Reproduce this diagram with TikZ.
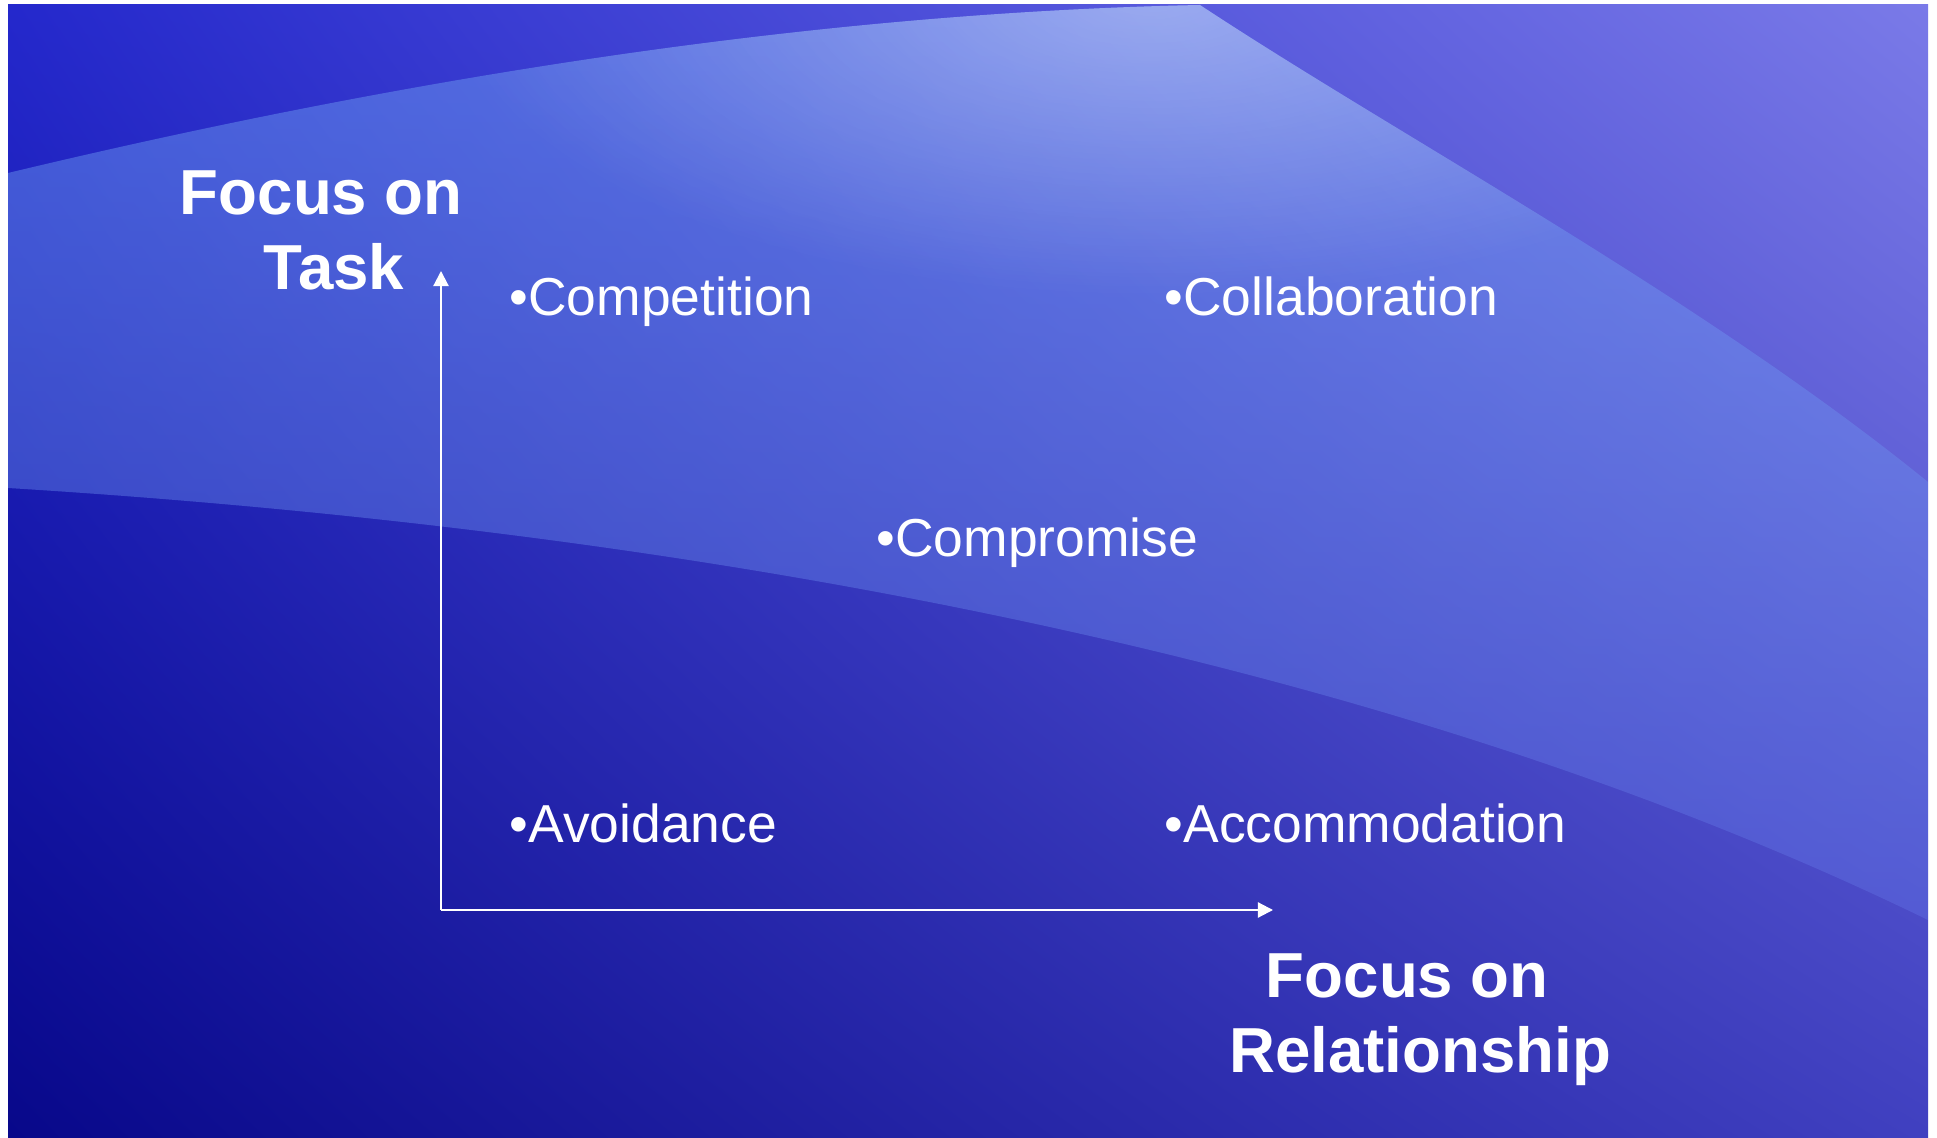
\documentclass[tikz,border=0pt]{standalone}
\usepackage{fontspec}
\setmainfont{Liberation Sans}
\usetikzlibrary{arrows.meta,fadings,shadings}

\definecolor{slidetl}{HTML}{2428CC}
\definecolor{slidetr}{HTML}{7A7AE8}
\definecolor{slidebl}{HTML}{08088A}
\definecolor{slidebr}{HTML}{4040C0}
\definecolor{bandtop}{HTML}{78B0F8}
\definecolor{bandbottom}{HTML}{6070E4}

\tikzfading[name=glow, inner color=transparent!0, outer color=transparent!100]

\begin{document}
\begin{tikzpicture}[
    axis/.style={draw=white, line width=0.6pt, -{Triangle[length=4.3pt,width=4.3pt]}},
    item/.style={anchor=base west, inner sep=0pt, text=white, font=\fontsize{15.2pt}{18.2pt}\selectfont},
    axistitle/.style={anchor=north, inner sep=0pt, align=center, text=white, font=\fontsize{18.1pt}{21.3pt}\selectfont\bfseries}
  ]
    \useasboundingbox (0cm,0cm) rectangle (19.37cm,11.37cm);
    \fill[white] (0cm,0cm) rectangle (19.37cm,11.37cm);

    % slide background with the light swoosh band
    \shade[upper left=slidetl, upper right=slidetr, lower left=slidebl, lower right=slidebr]
      (0.08cm,0cm) rectangle (19.28cm,11.32cm);
    \begin{scope}
      \clip (0.08cm,9.64cm) .. controls (4.5cm,10.7cm) and (8.5cm,11.25cm) .. (12cm,11.32cm)
            .. controls (14cm,10cm) and (17cm,8.4cm) .. (19.28cm,6.55cm)
            -- (19.28cm,2.17cm)
            .. controls (14.5cm,4.5cm) and (8cm,6cm) .. (0.08cm,6.49cm) -- cycle;
      \shade[top color=bandtop, bottom color=bandbottom, opacity=0.42] (0.08cm,2cm) rectangle (19.28cm,11.32cm);
      \fill[white, opacity=0.35, path fading=glow] (11.5cm,11.4cm) ellipse (7cm and 3cm);
    \end{scope}

    % axes
    \coordinate (origin)  at (4.41cm,2.27cm);
    \coordinate (taskend) at (4.41cm,8.66cm);
    \coordinate (relend)  at (12.73cm,2.27cm);
    \draw[axis] (origin) -- (taskend);
    \draw[axis] (origin) -- (relend);

    \node[axistitle] (tasktitle) at (3.34cm,9.67cm) {Focus on\hspace*{0.4em}\\Task};
    \node[axistitle] (reltitle)  at (14.2cm,1.84cm) {Focus on\hspace*{0.4em}\\Relationship};

    % conflict styles
    \node[item] (competition)   at (5.09cm,8.21cm)  {•Competition};
    \node[item] (collaboration) at (11.64cm,8.21cm) {•Collaboration};
    \node[item] (compromise)    at (8.76cm,5.80cm)  {•Compromise};
    \node[item] (avoidance)     at (5.09cm,2.94cm)  {•Avoidance};
    \node[item] (accommodation) at (11.64cm,2.94cm) {•Accommodation};
  \end{tikzpicture}
\end{document}
